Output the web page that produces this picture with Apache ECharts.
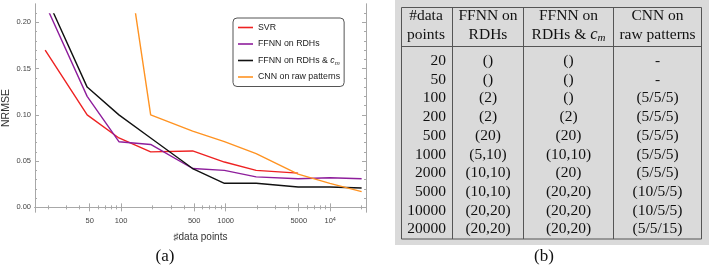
<!DOCTYPE html>
<html><head><meta charset="utf-8">
<script src="https://cdn.jsdelivr.net/npm/echarts@6/dist/echarts.min.js"></script>
<style>html,body{margin:0;padding:0;background:#fff}#c{width:709px;height:267px}</style>
</head><body><div id="c"></div>
<script>
// ---------- data ----------
const dataPoints = [20, 50, 100, 200, 500, 1000, 2000, 5000, 10000, 20000];
const svr       = [0.170, 0.100, 0.075, 0.060, 0.061, 0.049, 0.040, 0.037, null, null];
const ffnnRDH   = [0.220, 0.120, 0.071, 0.068, 0.042, 0.040, 0.033, 0.031, 0.032, 0.031];
const ffnnRDHcm = [0.230, 0.130, 0.100, 0.075, 0.042, 0.026, 0.026, 0.022, 0.022, 0.021];
const cnnRaw    = [null, null, 0.330, 0.100, 0.0825, 0.071, 0.058, 0.036, 0.026, 0.017];
const seriesNames = ['SVR', 'FFNN on RDHs', 'FFNN on RDHs & c_m', 'CNN on raw patterns'];
const yTicks = [0, 0.05, 0.10, 0.15, 0.20];
const yMinorTicks = [0.01,0.02,0.03,0.04,0.06,0.07,0.08,0.09,0.11,0.12,0.13,0.14,0.16,0.17,0.18,0.19,0.21];
const xTicks = [50, 100, 500, 1000, 5000, 10000];
const xMinorTicks = [20,30,40,60,70,80,90,200,300,400,600,700,800,900,2000,3000,4000,6000,7000,8000,9000,20000];
const tableHeader = [['#data','points'],['FFNN on','RDHs'],['FFNN on','RDHs & c_m'],['CNN on','raw patterns']];
const tableRows = [
  ['20','()','()','-'],
  ['50','()','()','-'],
  ['100','(2)','()','(5/5/5)'],
  ['200','(2)','(2)','(5/5/5)'],
  ['500','(20)','(20)','(5/5/5)'],
  ['1000','(5,10)','(10,10)','(5/5/5)'],
  ['2000','(10,10)','(20)','(5/5/5)'],
  ['5000','(10,10)','(20,20)','(10/5/5)'],
  ['10000','(20,20)','(20,20)','(10/5/5)'],
  ['20000','(20,20)','(20,20)','(5/5/15)']
];
const colors = ['#ee2222', '#8e1e9c', '#111111', '#ff9322'];

// ---------- chart ----------
const chart = echarts.init(document.getElementById('c'), null, {renderer: 'canvas'});
const SANS = 'Liberation Sans';
const SERIF = 'Liberation Serif';
const frameColor = '#a8a8a8';
const X_MIN = 15, X_MAX = 22000;

function xAxisDef(grid, pos, minor, labels) {
  return {
    type: 'log', logBase: 10, gridIndex: grid, position: pos, min: X_MIN, max: X_MAX,
    axisLine: {show: grid === 0, lineStyle: {color: frameColor, width: 1}},
    axisTick: {show: grid === 0, inside: true, length: minor ? 2 : 4,
               customValues: minor ? xMinorTicks : xTicks, lineStyle: {color: frameColor}},
    axisLabel: {show: labels, customValues: xTicks, margin: 4, fontSize: 7.5, color: '#444', fontFamily: SANS,
      formatter: v => v === 10000 ? '{b|10}{e|4}' : '{b|' + v + '}',
      rich: {b: {fontSize: 7.5, fontFamily: SANS, color: '#444', lineHeight: 9},
             e: {fontSize: 5.5, fontFamily: SANS, color: '#444', lineHeight: 5, verticalAlign: 'top'}}},
    splitLine: {show: false}, minorTick: {show: false},
    name: labels ? '\u266Fdata points' : '', nameLocation: 'middle', nameGap: 20,
    nameTextStyle: {fontSize: 10, color: '#333', fontFamily: SANS}
  };
}
function yAxisDef(grid, pos, minor, labels, min, max) {
  return {
    type: 'value', gridIndex: grid, position: pos, min: min, max: max,
    axisLine: {show: grid === 0, lineStyle: {color: frameColor, width: 1}},
    axisTick: {show: grid === 0, inside: true, length: minor ? 2 : 4,
               customValues: minor ? yMinorTicks : yTicks, lineStyle: {color: frameColor}},
    axisLabel: {show: labels, customValues: yTicks, margin: 4, fontSize: 7.5, color: '#444', fontFamily: SANS,
      formatter: v => v.toFixed(2)},
    splitLine: {show: false},
    name: labels ? 'NRMSE' : '', nameLocation: 'middle', nameRotate: 90, nameGap: 23,
    nameTextStyle: {fontSize: 10.5, color: '#333', fontFamily: SANS}
  };
}

const seriesData = [svr, ffnnRDH, ffnnRDHcm, cnnRaw];

// table graphic
const T = {bx0: 395, by0: 0, bx1: 709, by1: 245,
           cols: [401.5, 452.5, 523.5, 613.5, 701.5], y0: 7.5, y1: 239, hy: 46.5,
           hdr: [16, 35], row0: 61, rowH: 18.7, fs: 15.5};
const g = [];
g.push({type: 'rect', shape: {x: T.bx0, y: T.by0, width: T.bx1 - T.bx0, height: T.by1 - T.by0},
        style: {fill: '#dadada'}, z: 0});
g.push({type: 'rect', shape: {x: T.cols[0], y: T.y0, width: T.cols[4] - T.cols[0], height: T.y1 - T.y0},
        style: {fill: 'none', stroke: '#555', lineWidth: 1}, z: 1});
for (let i = 1; i < 4; i++) {
  g.push({type: 'line', shape: {x1: T.cols[i], y1: T.y0, x2: T.cols[i], y2: T.y1},
          style: {stroke: '#555', lineWidth: 1}, z: 1});
}
g.push({type: 'line', shape: {x1: T.cols[0], y1: T.hy, x2: T.cols[4], y2: T.hy},
        style: {stroke: '#555', lineWidth: 1}, z: 1});
const tRich = {
  t: {fontSize: T.fs, fontFamily: SERIF, fill: '#111', lineHeight: 18},
  i: {fontSize: T.fs + 1, fontFamily: SERIF, fontStyle: 'italic', fill: '#111', lineHeight: 18},
  s: {fontSize: 11, fontFamily: SERIF, fontStyle: 'italic', fill: '#111', lineHeight: 10, verticalAlign: 'bottom'}
};
function cellText(s) {
  const safe = s.replace(/_m$/, '');
  if (s.endsWith('_m')) return '{t|' + safe.slice(0, -1) + '}{i|c}{s|m}';
  return '{t|' + s + '}';
}
tableHeader.forEach((h, ci) => {
  const cx = ci === 0 ? 426 : (T.cols[ci] + T.cols[ci + 1]) / 2;
  h.forEach((line, li) => {
    g.push({type: 'text', z: 2, style: {text: cellText(line), rich: tRich, x: cx, y: T.hdr[li],
            align: 'center', verticalAlign: 'middle', fill: '#111'}});
  });
});
tableRows.forEach((r, ri) => {
  const y = T.row0 + ri * T.rowH;
  r.forEach((cell, ci) => {
    const right = ci === 0;
    const x = right ? 446 : (T.cols[ci] + T.cols[ci + 1]) / 2;
    g.push({type: 'text', z: 2, style: {text: cell, x: x, y: y, align: right ? 'right' : 'center',
            verticalAlign: 'middle', fill: '#111', font: T.fs + 'px "' + SERIF + '"'}});
  });
});
g.push({type: 'text', z: 2, style: {text: '(b)', x: 544, y: 257, align: 'center', verticalAlign: 'middle',
        fill: '#111', font: '17px "' + SERIF + '"'}});
g.push({type: 'text', z: 2, style: {text: '(a)', x: 165, y: 257, align: 'center', verticalAlign: 'middle',
        fill: '#111', font: '17px "' + SERIF + '"'}});

const option = {
  animation: false,
  backgroundColor: '#fff',
  grid: [
    {left: 32, right: 343, top: 4, bottom: 55, containLabel: false},
    {left: 32, right: 343, top: 14, bottom: 55, containLabel: false}
  ],
  xAxis: [
    xAxisDef(0, 'bottom', false, true),
    xAxisDef(0, 'bottom', true, false),
    xAxisDef(0, 'top', false, false),
    xAxisDef(0, 'top', true, false),
    xAxisDef(1, 'bottom', false, false)
  ],
  yAxis: [
    yAxisDef(0, 'left', false, true, -0.005, 0.2198),
    yAxisDef(0, 'left', true, false, -0.005, 0.2198),
    yAxisDef(0, 'right', false, false, -0.005, 0.2198),
    yAxisDef(0, 'right', true, false, -0.005, 0.2198),
    yAxisDef(1, 'left', false, false, -0.005, 0.209)
  ],
  legend: {
    orient: 'vertical', left: 233, top: 18, padding: [4, 4, 4, 5],
    backgroundColor: '#fff', borderColor: '#555', borderWidth: 1, borderRadius: 4,
    itemWidth: 15, itemHeight: 1.6, itemGap: 5.5, icon: 'rect',
    data: seriesNames,
    formatter: n => n.endsWith('c_m') ? '{n|FFNN on RDHs & }{i|c}{s|m}' : '{n|' + n + '}',
    textStyle: {fontSize: 8.8, fontFamily: SANS, color: '#222', lineHeight: 11,
      rich: {n: {fontSize: 8.8, fontFamily: SANS, color: '#222', lineHeight: 11},
             i: {fontSize: 8.8, fontFamily: SANS, fontStyle: 'italic', color: '#222', lineHeight: 11},
             s: {fontSize: 6, fontFamily: SANS, fontStyle: 'italic', color: '#222', lineHeight: 7, verticalAlign: 'bottom'}}}
  },
  series: seriesNames.map((n, i) => ({
    name: n, type: 'line', xAxisIndex: 4, yAxisIndex: 4,
    data: dataPoints.map((x, k) => [x, seriesData[i][k]]).filter(p => p[1] !== null),
    symbol: 'none', clip: true, color: colors[i],
    lineStyle: {width: 1.4, color: colors[i]}, z: 3 + i
  })),
  graphic: g
};
chart.setOption(option);
</script>
</body></html>
